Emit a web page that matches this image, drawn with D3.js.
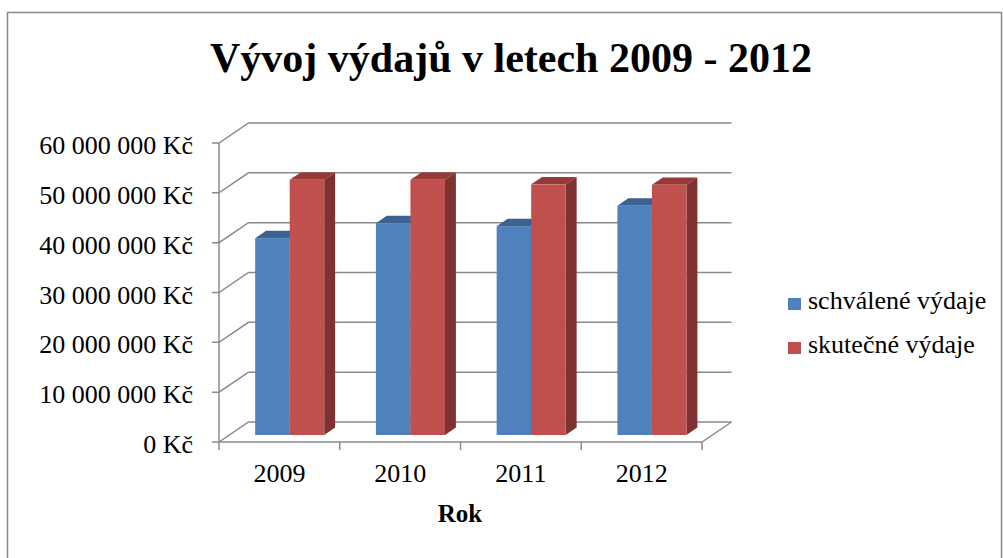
<!DOCTYPE html>
<html>
<head>
<meta charset="utf-8">
<script src="https://cdn.jsdelivr.net/npm/d3@7"></script>
<style>
body { margin: 0; background: #fff; }
svg { display: block; }
</style>
</head>
<body>
<svg id="myGraph" width="1003" height="558" font-family="'Liberation Serif', 'Times New Roman', Times, 'DejaVu Serif', serif"></svg>
<script>
// data
var years = ["2009", "2010", "2011", "2012"];
var series = ["schválené výdaje", "skutečné výdaje"];
var schvalene = [39500000, 42500000, 41900000, 46000000];
var skutecne = [51200000, 51200000, 50300000, 50200000];
var yTicks = [0, 10000000, 20000000, 30000000, 40000000, 50000000, 60000000];

var colors = [
    {front: "#4F81BD", top: "#3B6291", side: "#385D8A"},
    {front: "#C0504D", top: "#973A37", side: "#7D3130"}
];

var serif = "'Liberation Serif', 'Times New Roman', Times, 'DejaVu Serif', serif";
var svg = d3.select("#myGraph");

// frame
svg.append("rect")
    .attr("x", 7.5).attr("y", 12.5)
    .attr("width", 994).attr("height", 600)
    .attr("fill", "none").attr("stroke", "#898989").attr("stroke-width", 1.5);

// title
svg.append("text")
    .attr("x", 511).attr("y", 72)
    .attr("text-anchor", "middle")
    .attr("font-family", serif)
    .attr("font-size", 42).attr("font-weight", "bold")
    .text("Vývoj výdajů v letech 2009 - 2012");

// 3D setup: depth offset of back wall
var depthX = 29.5, depthY = -20;
var f0 = 0.35, f1 = 0.72; // bar front / back depth fractions

var x = d3.scaleBand().domain(years).range([219, 702]);
var y = d3.scaleLinear().domain([0, 60000000]).range([442, 143]);

var fmt = function(v){
    return d3.format(",")(v).replace(/,/g, " ") + " Kč";
};

var grid = "#8a8a8a";

// gridlines: diagonal on the side wall and horizontal on the back wall
var gl = svg.append("g");
yTicks.forEach(function(t){
    var yy = y(t);
    gl.append("path")
        .attr("d", "M212," + yy + "L219," + yy + "L" + (219 + depthX) + "," + (yy + depthY) +
              "L" + (702 + depthX) + "," + (yy + depthY))
        .attr("fill", "none").attr("stroke", grid).attr("stroke-width", 1.5);
});
// front vertical axis
gl.append("line")
    .attr("x1", 219).attr("x2", 219).attr("y1", y(60000000)).attr("y2", y(0))
    .attr("stroke", grid).attr("stroke-width", 1.5);
// floor front edge and right edge
gl.append("path")
    .attr("d", "M219," + y(0) + "L702," + y(0) + "L" + (702 + depthX) + "," + (y(0) + depthY))
    .attr("fill", "none").attr("stroke", grid).attr("stroke-width", 1.5);
// x ticks
x.domain().concat(["end"]).forEach(function(d, i){
    var xx = 219 + i * x.bandwidth();
    gl.append("line")
        .attr("x1", xx).attr("x2", xx).attr("y1", y(0)).attr("y2", y(0) + 8)
        .attr("stroke", grid).attr("stroke-width", 1.5);
});

// y labels
svg.append("g").selectAll("text")
    .data(yTicks).enter().append("text")
    .attr("x", 193).attr("y", function(d){ return y(d) + 11; })
    .attr("text-anchor", "end")
    .attr("font-family", serif).attr("font-size", 26)
    .text(fmt);

// x labels
svg.append("g").selectAll("text")
    .data(years).enter().append("text")
    .attr("x", function(d){ return x(d) + x.bandwidth() / 2; })
    .attr("y", 482)
    .attr("text-anchor", "middle")
    .attr("font-family", serif).attr("font-size", 26)
    .text(function(d){ return d; });

svg.append("text")
    .attr("x", 460).attr("y", 522)
    .attr("text-anchor", "middle")
    .attr("font-family", serif).attr("font-size", 25).attr("font-weight", "bold")
    .text("Rok");

// bars
var groupW = x.bandwidth() * 0.572;
var xs = d3.scaleBand().domain([0, 1]).range([0, groupW]);
var sx0 = depthX * f0, sy0 = depthY * f0;
var ddx = depthX * (f1 - f0), ddy = depthY * (f1 - f0);

var bars = [];
years.forEach(function(yr, i){
    bars.push({year: yr, s: 0, v: schvalene[i]});
    bars.push({year: yr, s: 1, v: skutecne[i]});
});

var bg = svg.append("g").selectAll("g")
    .data(bars).enter().append("g");

bg.each(function(d){
    var g = d3.select(this);
    var xl = x(d.year) + (x.bandwidth() - groupW) / 2 + xs(d.s) + sx0;
    var xr = xl + xs.bandwidth();
    var yb = y(0) + sy0;
    var yt = y(d.v) + sy0;
    var c = colors[d.s];
    // top
    g.append("path")
        .attr("d", "M" + xl + "," + yt + "L" + (xl + ddx) + "," + (yt + ddy) +
              "L" + (xr + ddx) + "," + (yt + ddy) + "L" + xr + "," + yt + "Z")
        .attr("fill", c.top);
    // side
    g.append("path")
        .attr("d", "M" + xr + "," + yt + "L" + (xr + ddx) + "," + (yt + ddy) +
              "L" + (xr + ddx) + "," + (yb + ddy) + "L" + xr + "," + yb + "Z")
        .attr("fill", c.side);
    // front
    g.append("rect")
        .attr("x", xl).attr("y", yt)
        .attr("width", xr - xl).attr("height", yb - yt)
        .attr("fill", c.front);
});

// legend
var lg = svg.append("g").selectAll("g")
    .data(series).enter().append("g")
    .attr("transform", function(d, i){ return "translate(788," + (298 + i * 44) + ")"; });
lg.append("rect")
    .attr("width", 13).attr("height", 12)
    .attr("fill", function(d, i){ return colors[i].front; });
lg.append("text")
    .attr("x", 20).attr("y", 11)
    .attr("font-family", serif).attr("font-size", 26)
    .text(function(d){ return d; });
</script>
</body>
</html>
